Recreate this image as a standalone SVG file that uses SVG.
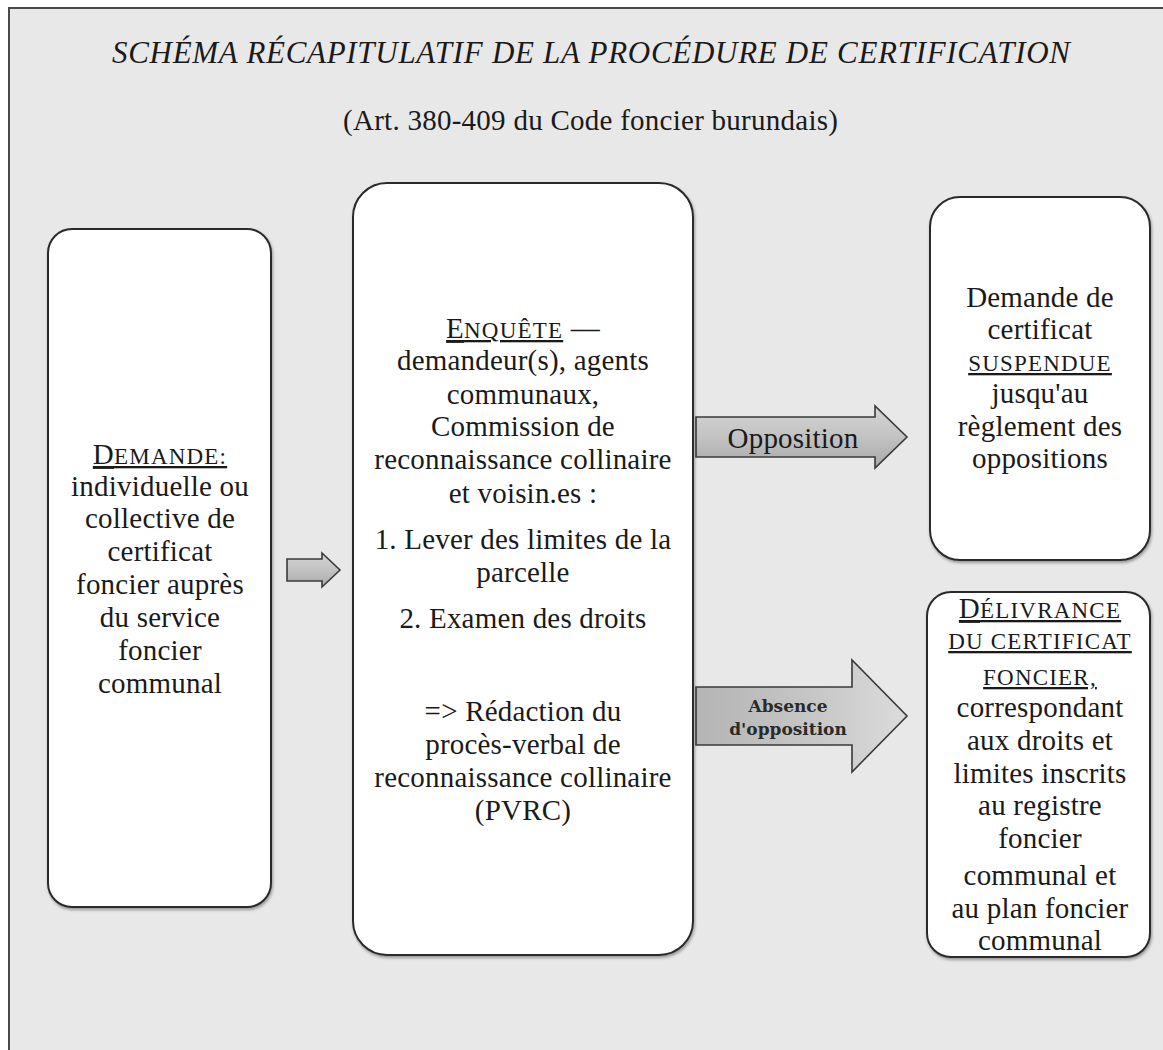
<svg xmlns="http://www.w3.org/2000/svg" width="1163" height="1050" viewBox="0 0 1163 1050">
  <defs>
    <style>
      text { font-family: "Liberation Serif", "Times New Roman", serif; fill: #1a1a1a; }
      .body { font-size: 29px; letter-spacing: 0.2px; text-anchor: middle; }
      .sc { font-size: 23px; letter-spacing: 1.2px; }
      .u { text-decoration: underline; }
      .box { fill: #ffffff; stroke: #2a2a2a; stroke-width: 2; filter: url(#shadow); }
      .arrow { stroke: #3a3a3a; stroke-width: 1.6; stroke-linejoin: miter; }
      .alabel { font-family: "DejaVu Serif", "Liberation Serif", serif; font-size: 17px; font-weight: bold; fill: #2a2a2a; text-anchor: middle; }
    </style>
    <filter id="shadow" x="-10%" y="-10%" width="120%" height="120%">
      <feDropShadow dx="1" dy="2" stdDeviation="1.5" flood-color="#000" flood-opacity="0.35"/>
    </filter>
    <linearGradient id="arrowGrad" x1="0" y1="0" x2="0" y2="1">
      <stop offset="0" stop-color="#d6d6d6"/>
      <stop offset="0.5" stop-color="#c2c2c2"/>
      <stop offset="1" stop-color="#a9a9a9"/>
    </linearGradient>
    <linearGradient id="arrowGrad2" x1="0" y1="0" x2="1" y2="0">
      <stop offset="0" stop-color="#b4b4b4"/>
      <stop offset="0.6" stop-color="#c8c8c8"/>
      <stop offset="1" stop-color="#dcdcdc"/>
    </linearGradient>
  </defs>

  <!-- page background and frame -->
  <rect x="0" y="0" width="1163" height="1050" fill="#ffffff"/>
  <rect x="9" y="8" width="1165" height="1060" fill="#e8e8e8" stroke="#4a4a4a" stroke-width="2"/>

  <!-- title -->
  <g id="title">
    <text x="112" y="63" font-size="31" font-style="italic" textLength="958" lengthAdjust="spacing">SCHÉMA RÉCAPITULATIF DE LA PROCÉDURE DE CERTIFICATION</text>
    <text x="343" y="130" font-size="29" textLength="495" lengthAdjust="spacing">(Art. 380-409 du Code foncier burundais)</text>
  </g>

  <!-- connectors -->
  <g id="connectors">
    <polygon class="arrow" fill="url(#arrowGrad)" points="287,559 322,559 322,553 340,570 322,587 322,581 287,581"/>
    <g id="arrow-opposition">
      <polygon class="arrow" fill="url(#arrowGrad)" points="696,417 875,417 875,406 907,437 875,468 875,457 696,457"/>
      <text x="793" y="448" class="body">Opposition</text>
    </g>
    <g id="arrow-absence">
      <polygon class="arrow" fill="url(#arrowGrad2)" points="696,687 852,687 852,660 907,716 852,772 852,745 696,745"/>
      <text x="788" y="712" class="alabel">Absence</text>
      <text x="788" y="735" class="alabel">d'opposition</text>
    </g>
  </g>

  <!-- Demande -->
  <g id="node-demande">
    <rect class="box" x="48" y="229" width="223" height="678" rx="24" ry="24"/>
    <text class="body" x="160" y="464"><tspan class="u">D<tspan class="sc">EMANDE:</tspan></tspan></text>
    <text class="body" x="160" y="496">individuelle ou</text>
    <text class="body" x="160" y="528">collective de</text>
    <text class="body" x="160" y="561">certificat</text>
    <text class="body" x="160" y="594">foncier auprès</text>
    <text class="body" x="160" y="627">du service</text>
    <text class="body" x="160" y="660">foncier</text>
    <text class="body" x="160" y="693">communal</text>
  </g>

  <!-- Enquête -->
  <g id="node-enquete">
    <rect class="box" x="353" y="183" width="340" height="772" rx="34" ry="34"/>
    <text class="body" x="523" y="338"><tspan class="u">E<tspan class="sc">NQUÊTE</tspan></tspan> —</text>
    <text class="body" x="523" y="370">demandeur(s), agents</text>
    <text class="body" x="523" y="404">communaux,</text>
    <text class="body" x="523" y="436">Commission de</text>
    <text class="body" x="523" y="469">reconnaissance collinaire</text>
    <text class="body" x="523" y="503">et voisin.es :</text>
    <text class="body" x="523" y="549">1. Lever des limites de la</text>
    <text class="body" x="523" y="582">parcelle</text>
    <text class="body" x="523" y="628">2. Examen des droits</text>
    <text class="body" x="523" y="721">=&gt; Rédaction du</text>
    <text class="body" x="523" y="754">procès-verbal de</text>
    <text class="body" x="523" y="787">reconnaissance collinaire</text>
    <text class="body" x="523" y="820">(PVRC)</text>
  </g>

  <!-- Suspendue -->
  <g id="node-suspendue">
    <rect class="box" x="930" y="197" width="220" height="363" rx="30" ry="30"/>
    <text class="body" x="1040" y="307">Demande de</text>
    <text class="body" x="1040" y="339">certificat</text>
    <text class="body" x="1040" y="371"><tspan class="sc u">SUSPENDUE</tspan></text>
    <text class="body" x="1040" y="403">jusqu'au</text>
    <text class="body" x="1040" y="436">règlement des</text>
    <text class="body" x="1040" y="468">oppositions</text>
  </g>

  <!-- Délivrance -->
  <g id="node-delivrance">
    <rect class="box" x="927" y="592" width="223" height="365" rx="24" ry="24"/>
    <text class="body" x="1040" y="618"><tspan class="u">D<tspan class="sc">ÉLIVRANCE</tspan></tspan></text>
    <text class="body" x="1040" y="649"><tspan class="sc u">DU CERTIFICAT</tspan></text>
    <text class="body" x="1040" y="685"><tspan class="sc u">FONCIER,</tspan></text>
    <text class="body" x="1040" y="717">correspondant</text>
    <text class="body" x="1040" y="750">aux droits et</text>
    <text class="body" x="1040" y="783">limites inscrits</text>
    <text class="body" x="1040" y="815">au registre</text>
    <text class="body" x="1040" y="848">foncier</text>
    <text class="body" x="1040" y="885">communal et</text>
    <text class="body" x="1040" y="918">au plan foncier</text>
    <text class="body" x="1040" y="950">communal</text>
  </g>
</svg>
